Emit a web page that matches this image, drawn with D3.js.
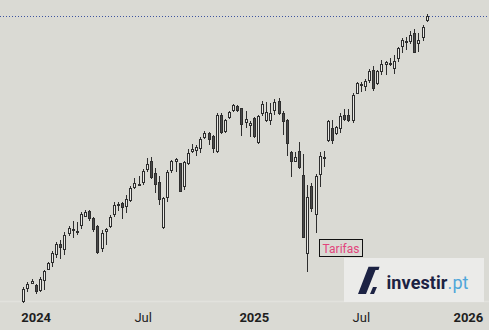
<!DOCTYPE html>
<html>
<head>
<meta charset="utf-8">
<script src="https://cdn.jsdelivr.net/npm/d3@7"></script>
<style>
  html, body { margin: 0; padding: 0; background: #dadad4; }
  svg { display: block; }
</style>
</head>
<body>
<svg id="chart" width="489" height="330"></svg>
<script>
const W = 489;
const H = 330;

// weekly bars, Monday dates
const firstWeek = new Date(2023, 11, 11);
const lastWeek = new Date(2025, 9, 27);

const open = [4635,4722,4755,4746,4707,4772,4848,4892,4951,5025,
  4985,5093,5124,5105,5155,5220,5261,5210,5155,4988,
  5110,5143,5230,5300,5318,5292,5337,5430,5455,5468,
  5570,5640,5545,5478,5142,5355,5562,5635,5622,5442,
  5617,5711,5721,5738,5822,5862,5840,5714,6013,5870,
  5990,6047,6089,6069,5944,5922,5985,5781,6019,5965,
  5965,6049,6134,6027,5971,5711,5635,5719,5532,4955,
  5447,5232,5532,5660,5802,5908,5853,5897,6013,6013,
  5963,6196,6265,6256,6301,6402,6275,6387,6449,6460,
  6408,6505,6607,6652,6659,6737,6635,6696,6854];

const high = [4735,4764,4786,4751,4797,4846,4902,4978,5041,5053,
  5112,5153,5189,5182,5256,5268,5268,5220,5160,5124,
  5141,5232,5329,5329,5329,5380,5450,5506,5524,5575,
  5661,5669,5583,5524,5367,5570,5648,5661,5627,5640,
  5733,5773,5768,5830,5884,5875,5849,6027,6027,5979,
  6049,6103,6098,6075,6049,5965,5999,6013,6131,6120,
  6112,6146,6160,6047,5979,5719,5714,5794,5695,5455,
  5474,5537,5711,5723,5971,5971,5922,6027,6061,6061,
  6198,6292,6298,6322,6408,6438,6402,6488,6486,6509,
  6537,6613,6691,6706,6759,6778,6737,6816,6921];

const low = [4627,4702,4751,4685,4702,4713,4844,4864,4926,4923,
  4949,5081,5065,5091,5133,5215,5191,5112,4957,4967,
  5018,5136,5220,5263,5201,5244,5329,5425,5450,5455,
  5557,5498,5397,5305,5129,5329,5549,5557,5399,5417,
  5609,5701,5682,5701,5814,5768,5706,5706,5856,5862,
  5982,6041,6041,5843,5908,5835,5822,5776,6005,5957,
  5930,6013,6010,5849,5680,5514,5630,5575,5065,4835,
  5254,5105,5440,5596,5794,5776,5849,5867,5965,5957,
  5949,6189,6209,6217,6289,6220,6270,6358,6355,6435,
  6366,6476,6558,6582,6638,6552,6566,6668,6847];

const close = [4720,4751,4772,4698,4786,4837,4892,4964,5027,4997,
  5089,5138,5131,5115,5239,5254,5201,5122,4962,5105,
  5131,5220,5303,5310,5281,5347,5430,5468,5463,5565,
  5614,5506,5455,5346,5357,5557,5640,5656,5404,5635,
  5701,5738,5754,5819,5867,5808,5733,6013,5867,5971,
  6038,6095,6049,5930,5977,5949,5830,6005,6106,6041,
  6032,6120,6019,5957,5773,5635,5669,5583,5069,5362,
  5280,5528,5684,5672,5963,5796,5911,6005,5971,5963,
  6183,6284,6278,6304,6395,6235,6395,6453,6476,6469,
  6486,6598,6675,6670,6722,6558,6675,6794,6901];

const tickDates = [new Date(2024, 0, 1), new Date(2024, 6, 1), new Date(2025, 0, 6), new Date(2025, 6, 7), new Date(2026, 0, 5)];
const tickLabels = ["2024", "Jul", "2025", "Jul", "2026"];

const note = {date: new Date(2025, 3, 28), price: 5058, text: "Tarifas"};

const BG = "#dadad4";
const INK = "#2e2e2e";

const weeks = d3.timeMonday.range(firstWeek, d3.timeDay.offset(lastWeek, 1));
const bars = weeks.map((d, i) => ({date: d, o: open[i], h: high[i], l: low[i], c: close[i]}));

const x = d3.scaleTime().domain([firstWeek, lastWeek]).range([23.3, 426.7]);
const y = d3.scaleLog().domain([d3.min(low), d3.max(high)]).range([303.4, 14]);

const svg = d3.select("#chart");

svg.append("rect").attr("width", W).attr("height", H).attr("fill", BG);

// pane bottom edge
svg.append("line")
  .attr("x1", 0).attr("x2", W)
  .attr("y1", 301.5).attr("y2", 301.5)
  .attr("stroke", "#e2e2dd").attr("stroke-width", 1.5);

// last price line
const yLast = Math.round(y(close[close.length - 1])) + 0.5;
svg.append("line")
  .attr("x1", 0).attr("x2", W)
  .attr("y1", yLast).attr("y2", yLast)
  .attr("stroke", "#3f55a0")
  .attr("stroke-width", 1)
  .attr("stroke-dasharray", "1 2");

// ── candles ────────────────────────────────────────────────
const gc = svg.append("g");
for (const b of bars) {
  const px = Math.round(x(b.date));
  const up = b.c >= b.o;
  gc.append("line")
    .attr("x1", px + 0.5).attr("x2", px + 0.5)
    .attr("y1", Math.round(y(b.h))).attr("y2", Math.round(y(b.l)))
    .attr("stroke", INK).attr("stroke-width", 1);
  const yt = Math.round(y(Math.max(b.o, b.c)));
  const yb = Math.round(y(Math.min(b.o, b.c)));
  gc.append("rect")
    .attr("x", px - 0.5)
    .attr("y", yt + 0.5)
    .attr("width", 2)
    .attr("height", Math.max(1, yb - yt - 1))
    .attr("fill", up ? "#e9e9e5" : "#4a4a4a")
    .attr("stroke", INK)
    .attr("stroke-width", 1);
}

// ── x axis ─────────────────────────────────────────────────
const axis = svg.append("g")
  .attr("transform", "translate(0,321.5)")
  .call(d3.axisBottom(x).tickValues(tickDates).tickFormat((d, i) => tickLabels[i]).tickSize(0).tickPadding(0));
axis.select(".domain").remove();
axis.selectAll("text")
  .attr("y", 0).attr("dy", null)
  .attr("fill", "#1e1e1e")
  .style("font-family", "Roboto, 'Noto Sans', sans-serif")
  .style("font-size", "13px")
  .style("font-weight", (d, i) => tickLabels[i] === "Jul" ? 400 : 700);

// ── annotation ─────────────────────────────────────────────
const nx = x(note.date) - 1;
const ny = y(note.price);
svg.append("rect")
  .attr("x", Math.round(nx) + 0.5).attr("y", Math.round(ny) + 0.5)
  .attr("width", 43).attr("height", 17)
  .attr("fill", BG).attr("stroke", "#111").attr("stroke-width", 1);
svg.append("text")
  .attr("x", Math.round(nx) + 22).attr("y", Math.round(ny) + 13.5)
  .attr("text-anchor", "middle")
  .attr("fill", "#e2457c")
  .style("font-family", "Roboto, 'Noto Sans', sans-serif")
  .style("font-size", "12px")
  .text(note.text);

// ── logo ───────────────────────────────────────────────────
const logo = svg.append("g").attr("transform", "translate(344,258)");
logo.append("rect").attr("width", 140).attr("height", 44).attr("fill", "#ebebe9");
logo.append("path")
  .attr("d", "M24.5,8.7 L35.5,8.7 L34.5,12 L31.5,12 L22,36 L14,36 Z")
  .attr("fill", "#1c2243");
logo.append("path")
  .attr("d", "M29,29 L33,29 L30,36 L26,36 Z")
  .attr("fill", "#1c2243");
const lt = logo.append("text")
  .attr("x", 42.5).attr("y", 30.5)
  .attr("textLength", 82)
  .attr("lengthAdjust", "spacing")
  .style("font-family", "Roboto, 'Noto Sans', sans-serif")
  .style("font-size", "18px");
lt.append("tspan").attr("fill", "#1c2243").style("font-weight", 700).text("investir");
lt.append("tspan").attr("fill", "#4fa6da").style("font-weight", 400).text(".pt");
</script>
</body>
</html>
